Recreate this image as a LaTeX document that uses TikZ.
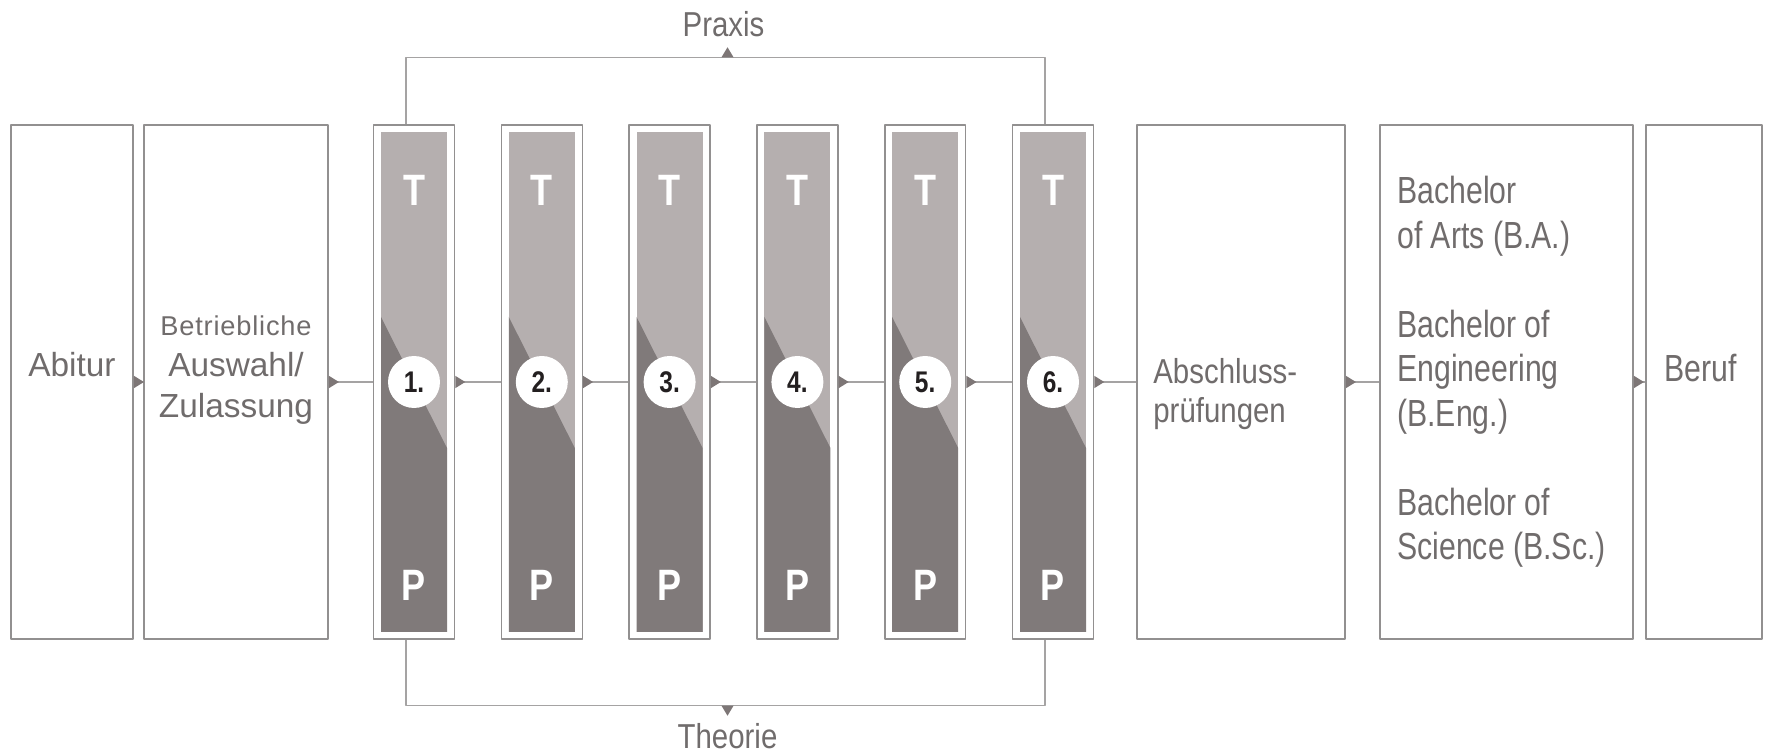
\documentclass[tikz,border=0pt]{standalone}
\usepackage{fontspec}
\setmainfont{Liberation Sans}
\newfontfamily\narrowfont{Liberation Sans}[FakeStretch=0.8]
\newfontfamily\midfont{Liberation Sans}[FakeStretch=0.85]
\newfontfamily\condfont{Liberation Sans}[FakeStretch=0.82]
\usetikzlibrary{arrows.meta,calc,positioning}
\definecolor{framec}{RGB}{146,144,144}
\definecolor{linec}{RGB}{165,163,163}
\definecolor{tipc}{RGB}{125,118,118}
\definecolor{lightc}{RGB}{181,175,175}
\definecolor{darkc}{RGB}{128,122,122}
\definecolor{textc}{RGB}{112,108,108}
\definecolor{numc}{RGB}{35,31,32}

\begin{document}
\begin{tikzpicture}[x=0.02cm,y=0.02cm,line join=round,
  box/.style={draw=framec,line width=1.1pt,inner sep=0pt,minimum height=10.28cm},
  sembox/.style={box,line width=0.9pt,minimum width=1.62cm},
  conn/.style={draw=linec,line width=0.85pt,{Triangle[reversed,length=5.7pt,width=6.8pt,color=tipc]}-},
  bracketline/.style={draw=linec,line width=0.85pt},
  txt/.style={text=textc,inner sep=0pt},
  tp/.style={text=white,inner sep=0pt,font=\condfont\bfseries\fontsize{25}{30}\selectfont},
  circ/.style={circle,fill=white,minimum size=1.04cm,inner sep=0pt,text=numc,font=\condfont\bfseries\fontsize{17}{20}\selectfont}]
\useasboundingbox (0,0) rectangle (1765,754);
% boxes
\node[box,minimum width=2.44cm] (abi) at (72,372) {};
\node[box,minimum width=3.68cm] (ausw) at (236,372) {};
\node[box,minimum width=4.16cm] (absch) at (1241,372) {};
\node[box,minimum width=5.06cm] (bach) at (1506.5,372) {};
\node[box,minimum width=2.32cm] (beruf) at (1704,372) {};
% semesters
\foreach \i in {1,...,6}{
  \pgfmathsetmacro\sx{414+(\i-1)*127.8}
  \node[sembox] (s\i) at (\sx,372) {};
  \fill[lightc] ($(s\i.center)+(-33,-250)$) rectangle ($(s\i.center)+(33,250)$);
  \fill[darkc] ($(s\i.center)+(-33,65)$) -- ($(s\i.center)+(33,-66)$) -- ($(s\i.center)+(33,-250)$) -- ($(s\i.center)+(-33,-250)$) -- cycle;
  \node[circ] (c\i) at (s\i.center) {\i.};
  \node[tp] (t\i) at ($(s\i.center)+(0,192)$) {T};
  \node[tp] (p\i) at ($(s\i.center)+(0,-203)$) {P};
}
% texts
\node[txt,anchor=base,font=\fontsize{19}{23.5}\selectfont] (tabi) at (72,377) {Abitur};
\node[txt,anchor=base,align=center,font=\fontsize{19}{23.5}\selectfont] (tausw) at (236,336) {{\addfontfeature{LetterSpace=3}\fontsize{15.5}{22.7}\selectfont Betriebliche}\\Auswahl/\\Zulassung};
\node[txt,anchor=base west,align=left,font=\midfont\fontsize{19.7}{22.7}\selectfont] (tabsch) at (1153,331) {Abschluss-\\prüfungen};
\node[txt,anchor=base west,align=left,font=\narrowfont\fontsize{21.5}{25.35}\selectfont] (tbach) at (1397,194) {Bachelor\\of Arts (B.A.)\\[25.35pt]Bachelor of\\Engineering\\(B.Eng.)\\[25.35pt]Bachelor of\\Science (B.Sc.)};
\node[txt,anchor=base west,font=\narrowfont\fontsize{21.5}{25.4}\selectfont] (tberuf) at (1664,372) {Beruf};
% connectors
\foreach \a/\b in {abi/ausw,ausw/s1,s1/s2,s2/s3,s3/s4,s4/s5,s5/s6,s6/absch,absch/bach,bach/beruf}{\draw[conn] (\a.east) -- (\b.west);}
% Praxis / Theorie
\draw[bracketline] ($(s1.north)+(-8,0)$) -- ++(0,67) -| ($(s6.north)+(-8,0)$);
\coordinate (pr) at ($(s1.north)!0.5!(s6.north)+(-6,67)$);
\fill[tipc] ($(pr)+(-6,0)$) -- ($(pr)+(6,0)$) -- ($(pr)+(0,10)$) -- cycle;
\node[txt,anchor=base,font=\midfont\fontsize{19.7}{24}\selectfont] (praxis) at ($(pr)+(-4,21)$) {Praxis};
\draw[bracketline] ($(s1.south)+(-8,0)$) -- ++(0,-66) -| ($(s6.south)+(-8,0)$);
\coordinate (th) at ($(s1.south)!0.5!(s6.south)+(-6,-66)$);
\fill[tipc] ($(th)+(-6,0)$) -- ($(th)+(6,0)$) -- ($(th)+(0,-10)$) -- cycle;
\node[txt,anchor=base,font=\midfont\fontsize{19.7}{24}\selectfont] (theorie) at ($(th)+(0,-43)$) {Theorie};
\end{tikzpicture}
\end{document}
